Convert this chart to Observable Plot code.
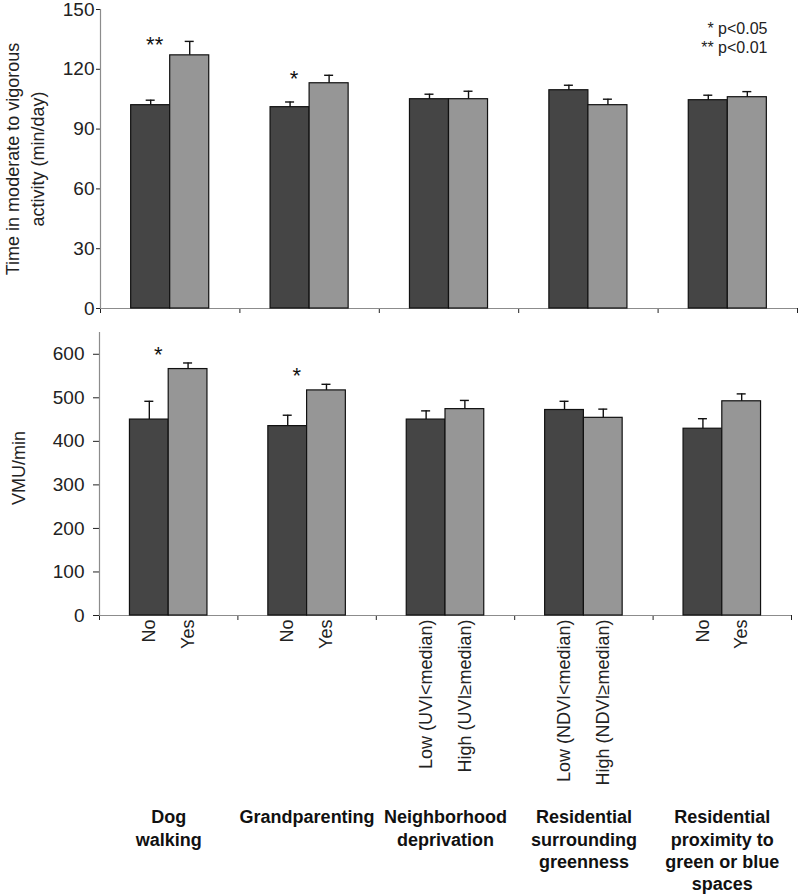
<!DOCTYPE html>
<html>
<head>
<meta charset="utf-8">
<script src="https://cdn.jsdelivr.net/npm/d3@7"></script>
<script src="https://cdn.jsdelivr.net/npm/@observablehq/plot@0.6"></script>
<style>
  html, body { margin: 0; padding: 0; background: white; }
  #chart svg { display: block; }
</style>
</head>
<body>
<div id="chart"></div>
<script>
// ---- data ----
const groupNames = [
  "Dog\nwalking",
  "Grandparenting",
  "Neighborhood\ndeprivation",
  "Residential\nsurrounding\ngreenness",
  "Residential\nproximity to\ngreen or blue\nspaces"
];
const levelA = ["No", "No", "Low (UVI<median)", "Low (NDVI<median)", "No"];
const levelB = ["Yes", "Yes", "High (UVI\u2265median)", "High (NDVI\u2265median)", "Yes"];

// Time in moderate to vigorous activity (min/day)
const mvpaA    = [102, 101, 105, 109.5, 104.5];
const mvpaAErr = [2.5, 2.6, 2.5, 2.5, 2.5];
const mvpaB    = [127, 113, 105, 102, 106];
const mvpaBErr = [7, 4, 4, 3, 2.8];
const mvpaSig  = ["**", "*", "", "", ""];
const mvpaTicks = [0, 30, 60, 90, 120, 150];

// VMU/min
const vmuA    = [450, 435, 450, 472, 429];
const vmuAErr = [42, 25, 20, 20, 23];
const vmuB    = [566, 517, 474, 454, 492];
const vmuBErr = [14, 14, 20, 20, 17];
const vmuSig  = ["*", "*", "", "", ""];
const vmuTicks = [0, 100, 200, 300, 400, 500, 600];

const sigNote = "* p<0.05\n** p<0.01";
const yLabelTop = "Time in moderate to vigorous\nactivity (min/day)";
const yLabelBottom = "VMU/min";

// ---- build tables ----
function makeRows(a, aErr, b, bErr) {
  return groupNames.flatMap((g, i) => [
    {gi: i, side: 0, label: levelA[i], value: a[i], err: aErr[i]},
    {gi: i, side: 1, label: levelB[i], value: b[i], err: bErr[i]}
  ]);
}
function makeSig(rows, sig) {
  return groupNames.map((g, i) => ({
    gi: i,
    s: sig[i],
    top: d3.max(rows.filter(r => r.gi === i), r => r.value + r.err)
  })).filter(d => d.s);
}
const mvpaRows = makeRows(mvpaA, mvpaAErr, mvpaB, mvpaBErr);
const vmuRows = makeRows(vmuA, vmuAErr, vmuB, vmuBErr);

// ---- layout helpers (bar placement inside each group) ----
const x1 = d => d.gi + (d.side ? 0.5 : 0.22);
const x2 = d => d.gi + (d.side ? 0.78 : 0.5);
const xc = d => (x1(d) + x2(d)) / 2;

const DARK = "#454545", LIGHT = "#969696", AXIS = "#8c8c8c", INK = "#111";
const FONT = "'Liberation Sans', Arial, Helvetica, sans-serif";

function panel(o) {
  return Plot.plot({
    width: 799,
    height: o.height,
    marginTop: o.marginTop,
    marginBottom: o.marginBottom,
    marginLeft: o.marginLeft,
    marginRight: o.marginRight,
    style: {fontFamily: FONT, fontSize: "19px", color: "#222", background: "white", overflow: "visible"},
    x: {domain: [0, groupNames.length], ticks: d3.range(groupNames.length + 1), tickSize: 5, tickFormat: () => "", label: null},
    y: {domain: o.yDomain, ticks: o.yTicks, tickSize: o.tickSize, tickPadding: o.tickPadding, label: null},
    marks: [
      Plot.ruleY([o.yDomain[0]], {stroke: AXIS, strokeWidth: 1.2}),
      Plot.ruleX([0], {stroke: AXIS, strokeWidth: 1.2}),
      Plot.rectY(o.rows.filter(d => !d.side), {x1, x2, y: "value", fill: DARK, stroke: INK, strokeWidth: 1.2}),
      Plot.rectY(o.rows.filter(d => d.side), {x1, x2, y: "value", fill: LIGHT, stroke: INK, strokeWidth: 1.2}),
      Plot.ruleX(o.rows, {x: xc, y1: "value", y2: d => d.value + d.err, stroke: INK, strokeWidth: 1.4}),
      Plot.ruleY(o.rows, {y: d => d.value + d.err, x1: xc, x2: xc, insetLeft: -4.5, insetRight: -4.5, stroke: INK, strokeWidth: 1.4}),
      Plot.text(o.sig, {x: d => d.gi + 0.36, y: "top", text: "s", dx: o.starDx, dy: o.starDy, fontSize: 22, fill: INK}),
      ...o.extra
    ]
  });
}

const topPanel = panel({
  rows: mvpaRows,
  sig: makeSig(mvpaRows, mvpaSig),
  yDomain: [0, 150], yTicks: mvpaTicks,
  height: 320, marginTop: 9, marginBottom: 12, marginLeft: 100, marginRight: 2,
  tickSize: 4, tickPadding: 2, starDx: 4, starDy: 4,
  extra: [
    Plot.text([yLabelTop], {text: d => d, frameAnchor: "left", dx: -77, rotate: -90, textAnchor: "middle", lineAnchor: "middle", lineHeight: 1.38, fontSize: 18, fill: "#222"}),
    Plot.text([sigNote], {text: d => d, frameAnchor: "top-right", dx: -30, dy: 11, textAnchor: "end", lineAnchor: "top", lineHeight: 1.2, fontSize: 16, fill: "#222"})
  ]
});

const bottomPanel = panel({
  rows: vmuRows,
  sig: makeSig(vmuRows, vmuSig),
  yDomain: [0, 650], yTicks: vmuTicks,
  height: 575, marginTop: 12, marginBottom: 280, marginLeft: 99, marginRight: 8,
  tickSize: 6, tickPadding: 9, starDx: 9, starDy: -8,
  extra: [
    Plot.text([yLabelBottom], {text: d => d, frameAnchor: "left", dx: -80, dy: -6, rotate: -90, textAnchor: "middle", lineAnchor: "middle", fontSize: 18, fill: "#222"}),
    Plot.text(vmuRows, {x: xc, y: () => 0, text: "label", rotate: -90, textAnchor: "end", lineAnchor: "middle", dy: 4, fontSize: 18, fill: "#222"}),
    Plot.text(groupNames, {x: (d, i) => i + 0.5, y: () => 0, text: d => d, textAnchor: "middle", lineAnchor: "top", dy: 192, lineHeight: 1.24, fontSize: 18, fontWeight: "bold", fill: "#111"})
  ]
});

const chart = document.getElementById("chart");
chart.appendChild(topPanel);
chart.appendChild(bottomPanel);
</script>
</body>
</html>
